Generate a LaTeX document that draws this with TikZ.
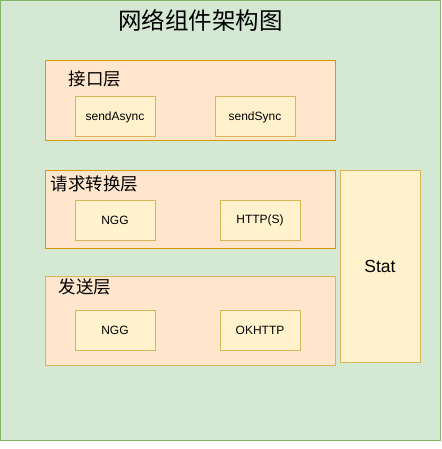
\documentclass[tikz,border=0pt]{standalone}
\usepackage{fontspec}
\setmainfont{Liberation Sans}
\newfontfamily\cjk{Noto Sans CJK SC}
\definecolor{outerfill}{HTML}{D5E8D4}
\definecolor{outerline}{HTML}{82B366}
\definecolor{layerfill}{HTML}{FFE6CC}
\definecolor{layerline}{HTML}{D79B00}
\definecolor{itemfill}{HTML}{FFF2CC}
\definecolor{itemline}{HTML}{D6B656}
\begin{document}
\begin{tikzpicture}[x=1pt,y=-1pt,
  layer/.style={draw=layerline,fill=layerfill,line width=1pt},
  layerthree/.style={draw=itemline,fill=layerfill,line width=1pt},
  item/.style={draw=itemline,fill=itemfill,line width=1pt,minimum width=80pt,minimum height=40pt,inner sep=0pt,font=\fontsize{12}{14}\selectfont},
  layerlabel/.style={anchor=west,inner sep=0pt,font=\cjk\fontsize{17.5}{20}\selectfont},
]
\useasboundingbox (0,0) rectangle (441,449);
\draw[draw=outerline,fill=outerfill,line width=1pt] (0.5,0.5) rectangle (440,440);
\node[inner sep=0pt,font=\cjk\fontsize{23.5}{26}\selectfont] (title) at (200.5,20) {网络组件架构图};

\draw[layer] (45,61) rectangle (335,141);
\node[layerlabel] (l1) at (68.5,79) {接口层};
\node[item] (sa) at (115,117) {sendAsync};
\node[item] (ss) at (255,117) {sendSync};

\draw[layer] (45,170) rectangle (335,248);
\node[layerlabel] (l2) at (50.5,184) {请求转换层};
\node[item] (ngg1) at (115,220) {NGG};
\node[item] (http) at (260,220) {HTTP(S)};

\draw[layerthree] (45,276) rectangle (335,365);
\node[layerlabel] (l3) at (58.5,287) {发送层};
\node[item] (ngg2) at (115,330) {NGG};
\node[item] (ok) at (260,330) {OKHTTP};

\node[draw=itemline,fill=itemfill,line width=1pt,minimum width=80pt,minimum height=192pt,inner sep=0pt,font=\fontsize{17.5}{20}\selectfont] (stat) at (380,266) {Stat};
\end{tikzpicture}
\end{document}
